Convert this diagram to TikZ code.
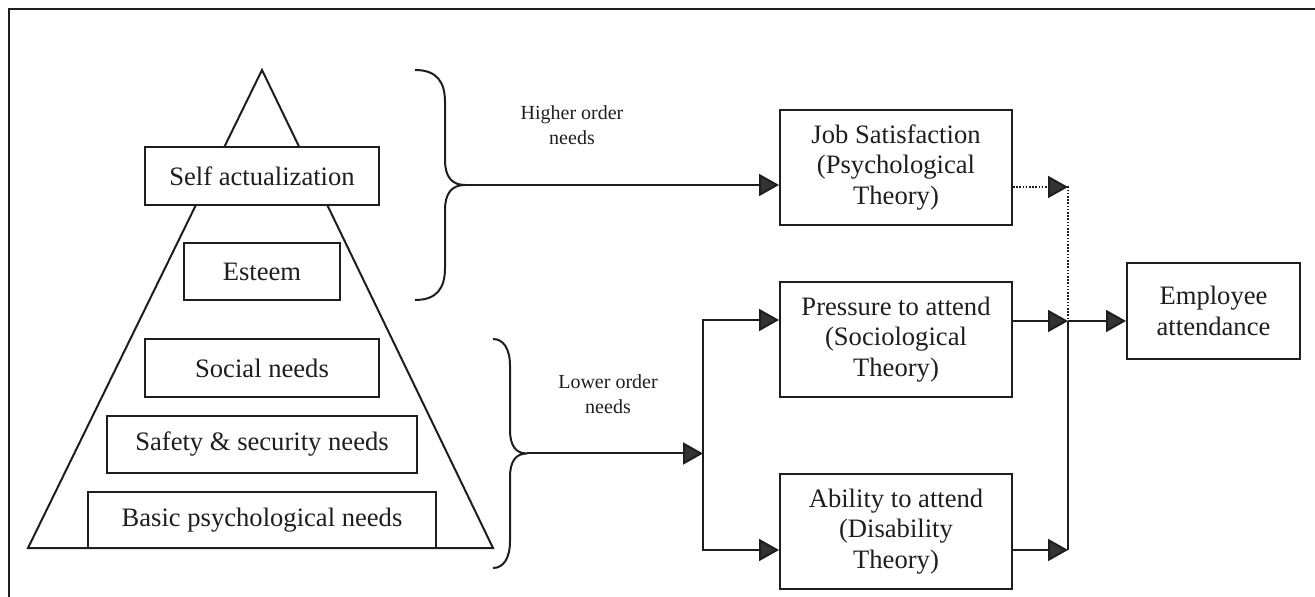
\documentclass[tikz,border=0pt]{standalone}
\usepackage{fontspec}
\setmainfont{Liberation Serif}
\usetikzlibrary{arrows.meta,calc}
\definecolor{ink}{HTML}{1E1E1E}
\definecolor{tipfill}{HTML}{333333}
\begin{document}
\begin{tikzpicture}[x=0.5pt,y=-0.5pt,
  line width=1pt, draw=ink, text=ink,
  needbox/.style={draw, fill=white, inner sep=0pt, align=center,
    font=\fontsize{13.3}{15.2}\selectfont},
  theorybox/.style={draw, fill=white, inner sep=0pt, align=center,
    minimum width=116pt, minimum height=57.5pt,
    font=\fontsize{13.3}{15.2}\selectfont},
  grouplabel/.style={align=center, inner sep=0pt,
    font=\fontsize{10}{12.5}\selectfont},
  arr/.style={-{Triangle[length=10pt,width=11pt,fill=tipfill]}},
  dots/.style={line width=0.7pt, dash pattern=on 0.8pt off 0.8pt}]
\useasboundingbox (0,0) rectangle (1315,597);

% frame (top and left edges)
\draw (9,597) -- (9,9) -- (1315,9);

% hierarchy of needs
\draw (262,70) -- (28,548) -- (493,548) -- cycle;
\node[needbox, minimum width=117pt, minimum height=29pt]   (sa) at (262,176)   {Self actualization};
\node[needbox, minimum width=78pt,  minimum height=28.5pt] (es) at (262,271.5) {Esteem};
\node[needbox, minimum width=117pt, minimum height=29pt]   (so) at (262,368)   {Social needs};
\node[needbox, minimum width=155pt, minimum height=28.5pt] (sf) at (262,444.5) {Safety \& security needs};
\node[needbox, minimum width=174pt, minimum height=28pt]   (bp) at (262,520)   {Basic psychological needs};

% braces grouping the needs
\coordinate (ut) at (465,185);
\draw (415,70) .. controls (437,70) and (445,82) .. (445,102) -- (445,160)
      .. controls (445,177) and (452,185) .. (ut)
      .. controls (452,185) and (445,193) .. (445,210) -- (445,268)
      .. controls (445,288) and (437,300) .. (415,300);
\coordinate (lt) at (527,453.5);
\draw (493,339) .. controls (503,339) and (510,348) .. (510,366) -- (510,430)
      .. controls (510,446) and (516,453.5) .. (lt)
      .. controls (516,453.5) and (510,461) .. (510,477) -- (510,541)
      .. controls (510,559) and (503,568) .. (493,568);

\node[grouplabel] (hl) at (572,125) {Higher order\\needs};
\node[grouplabel] (ll) at (608,394) {Lower order\\needs};

% theories
\node[theorybox] (js) at (896,167.5) {Job Satisfaction\\(Psychological\\Theory)};
\node[theorybox] (pr) at (896,339.5) {Pressure to attend\\(Sociological\\Theory)};
\node[theorybox] (ab) at (896,531.5) {Ability to attend\\(Disability\\Theory)};
\node[needbox, minimum width=86.5pt, minimum height=48pt] (ea) at (1213.5,311) {Employee\\attendance};

% needs to theories
\draw[arr] (ut) -- (ut -| js.west);
\coordinate (lj) at (703,453.5);
\coordinate (pj) at (703,320);
\coordinate (aj) at (703,550);
\draw[arr] (lt) -- (lj);
\draw[arr] (lj) -- (pj) -- (pj -| pr.west);
\draw[arr] (lj) -- (aj) -- (aj -| ab.west);

% theories to attendance (the dotted link keeps a solid head)
\coordinate (d1) at (1068,187);
\coordinate (rj) at (1068,321);
\coordinate (d3) at (1068,550);
\draw[dots] (js.east |- d1) -- (d1) -- (rj);
\draw[arr] ($(d1)+(-2,0)$) -- (d1);
\draw[arr] (pr.east |- rj) -- (rj);
\draw[arr] (rj) -- (rj -| ea.west);
\draw (rj) -- (d3);
\draw[arr] (ab.east |- d3) -- (d3);
\end{tikzpicture}
\end{document}
